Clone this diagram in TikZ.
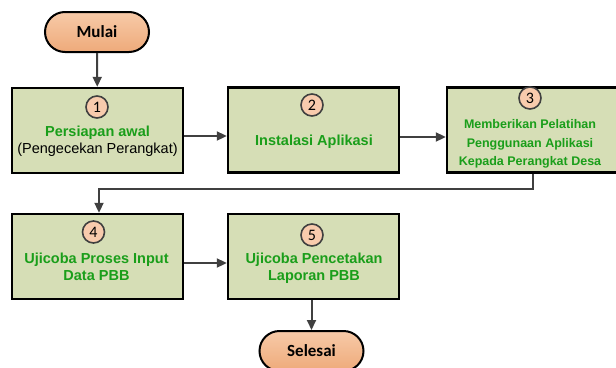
\documentclass[tikz,border=0pt]{standalone}
\usepackage{fontspec}
\setmainfont{Liberation Sans}
\newfontfamily\calib{Carlito}
\usetikzlibrary{arrows.meta}
\definecolor{boxfill}{RGB}{214,222,182}
\definecolor{termtop}{RGB}{247,202,168}
\definecolor{termbot}{RGB}{238,170,122}
\definecolor{numfill}{RGB}{248,203,173}
\definecolor{txtgreen}{RGB}{26,158,26}
\definecolor{arrowgray}{RGB}{64,64,64}
\begin{document}
\begin{tikzpicture}[x=1pt,y=-1pt,
  stepbox/.style={draw=black,line width=2.4pt,fill=boxfill,minimum width=171pt,minimum height=85pt,inner sep=0pt},
  term/.style={draw=black,line width=2pt,top color=termtop,bottom color=termbot,rounded corners=20pt,minimum width=104pt,minimum height=40pt,inner sep=0pt,font=\calib\bfseries\fontsize{17}{20}\selectfont},
  num/.style={circle,draw=arrowgray,line width=1.6pt,fill=numfill,minimum size=22pt,inner sep=0pt,font=\calib\fontsize{16}{17}\selectfont},
  gtxt/.style={anchor=base,inner sep=0pt,text=txtgreen,font=\bfseries\fontsize{14.5}{17}\selectfont},
  gsmall/.style={anchor=base,inner sep=0pt,text=txtgreen,font=\bfseries\fontsize{12.5}{15}\selectfont},
  btxt/.style={anchor=base,inner sep=0pt,text=black,font=\fontsize{14.5}{17}\selectfont},
  arr/.style={draw=arrowgray,line width=2pt,-{Triangle[length=10pt,width=9pt]}}
]
\useasboundingbox (0,0) rectangle (616,367);
\clip (0,0) rectangle (616,367);

% terminals
\node[term] (mulai) at (97,32) {Mulai};
\node[term] (sel) at (311.5,351) {Selesai};

% step boxes
\node[stepbox] (b1) at (97.5,130.5) {};
\node[stepbox] (b2) at (313.5,130) {};
\node[stepbox] (b3) at (532.5,130) {};
\node[stepbox] (b4) at (97.5,256.5) {};
\node[stepbox] (b5) at (313.5,256.5) {};

% numbers
\node[num] (c1) at (97,107) {1};
\node[num] (c2) at (312,105) {2};
\node[num] (c3) at (530,98) {3};
\node[num] (c4) at (93.5,232) {4};
\node[num] (c5) at (312,235) {5};

% texts
\node[gtxt] (t1a) at (97.5,136.5) {Persiapan awal};
\node[btxt] (t1b) at (97.5,153.5) {(Pengecekan Perangkat)};
\node[gtxt] (t2) at (314,145) {Instalasi Aplikasi};
\node[gsmall] (t3a) at (530,128.5) {Memberikan Pelatihan};
\node[gsmall] (t3b) at (530,147) {Penggunaan Aplikasi};
\node[gsmall] (t3c) at (530,165.5) {Kepada Perangkat Desa};
\node[gtxt] (t4a) at (96.5,263.5) {Ujicoba Proses Input};
\node[gtxt] (t4b) at (96.5,280.5) {Data PBB};
\node[gtxt] (t5a) at (314,263.5) {Ujicoba Pencetakan};
\node[gtxt] (t5b) at (314,280.5) {Laporan PBB};

% connectors
\draw[arr] (mulai) -- (b1);
\draw[arr] ([yshift=-5.5pt]b1.east) -- ([yshift=-5.5pt]b1.east -| b2.west);
\draw[arr] ([yshift=-7pt]b2.east) -- ([yshift=-7pt]b2.east -| b3.west);
\draw[arr] (b3.south) -- ++(0,15) -| ([xshift=1.5pt]b4.north);
\draw[arr] ([yshift=-6.5pt]b4.east) -- ([yshift=-6.5pt]b4.east -| b5.west);
\draw[arr] (b5.south -| sel.north) -- (sel.north);
\end{tikzpicture}
\end{document}
